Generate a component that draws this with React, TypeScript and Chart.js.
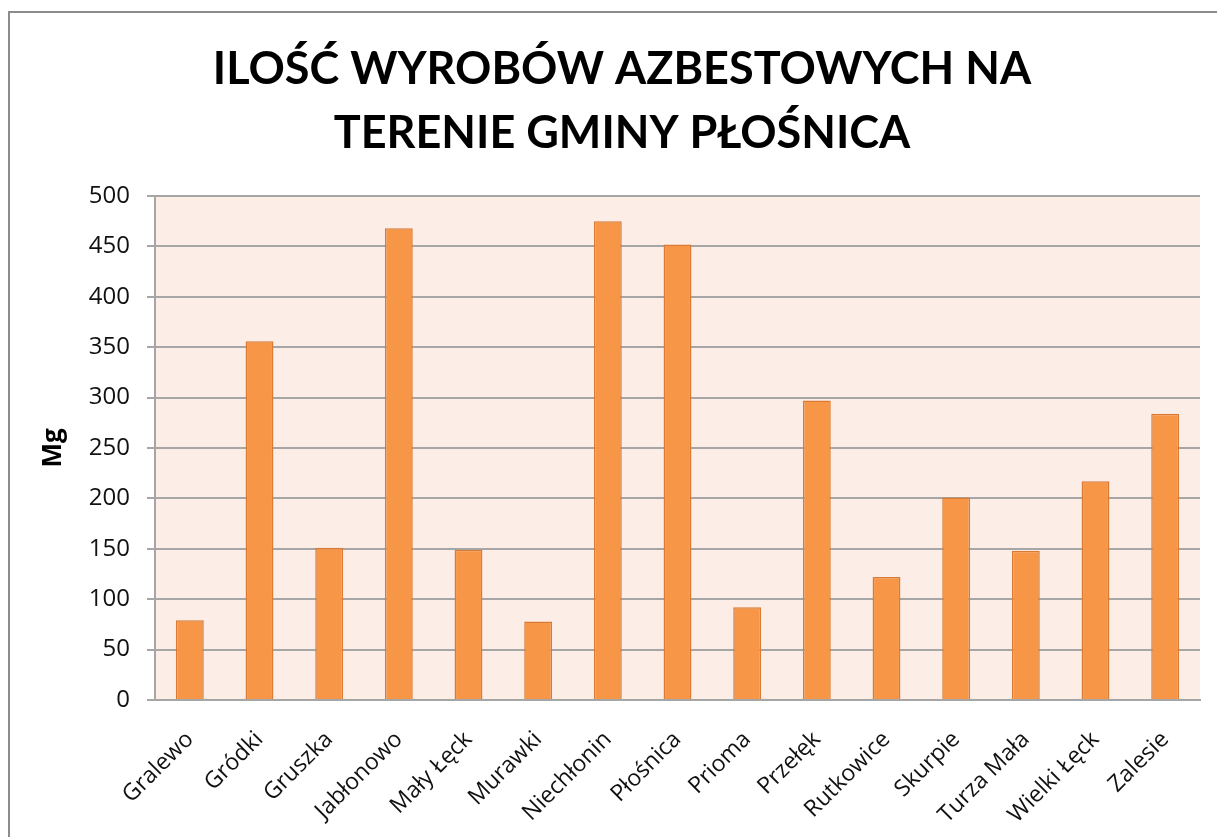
import React, { useEffect, useRef } from "react";
import { Chart, registerables } from "chart.js";

Chart.register(...registerables);

const categories = [
  "Gralewo", "Gródki", "Gruszka", "Jabłonowo", "Mały Łęck", "Murawki", "Niechłonin",
  "Płośnica", "Prioma", "Przełęk", "Rutkowice", "Skurpie", "Turza Mała", "Wielki Łęck", "Zalesie",
];
const values = [79, 356, 151, 468, 149, 78, 475, 452, 92, 297, 122, 201, 148, 217, 284];
const titleLines = ["ILOŚĆ WYROBÓW AZBESTOWYCH NA", "TERENIE GMINY PŁOŚNICA"];
const yAxisTitle = "Mg";

const frameAndTitle = {
  id: "frameAndTitle",
  beforeDraw(chart: any) {
    const { ctx, chartArea } = chart;
    ctx.save();
    ctx.fillStyle = "#FCEDE7";
    ctx.fillRect(chartArea.left, chartArea.top, chartArea.right - chartArea.left, chartArea.bottom - chartArea.top);
    ctx.restore();
  },
  afterDraw(chart: any) {
    const { ctx } = chart;
    ctx.save();
    ctx.strokeStyle = "#8C8C8C";
    ctx.lineWidth = 2;
    ctx.beginPath();
    ctx.moveTo(9, 837);
    ctx.lineTo(9, 12);
    ctx.lineTo(1217, 12);
    ctx.stroke();
    ctx.fillStyle = "#000";
    ctx.textAlign = "center";
    ctx.textBaseline = "alphabetic";
    ctx.font = "bold 45px Lato";
    ctx.fillText(titleLines[0], 622, 84);
    ctx.fillText(titleLines[1], 622, 148);
    ctx.restore();
  },
};

export default function App() {
  const ref = useRef<HTMLCanvasElement>(null);
  useEffect(() => {
    const chart = new Chart(ref.current!, {
      type: "bar",
      data: {
        labels: categories,
        datasets: [
          {
            data: values,
            backgroundColor: "#F79646",
            borderColor: "#D97B35",
            borderWidth: 1.5,
            categoryPercentage: 0.8,
            barPercentage: 0.5,
          },
        ],
      },
      options: {
        animation: false,
        responsive: false,
        layout: { padding: { left: 30, top: 196, right: 17, bottom: 0 } },
        plugins: { legend: { display: false }, tooltip: { enabled: false }, title: { display: false } },
        scales: {
          x: {
            grid: { display: false },
            border: { display: true, color: "#A6A6A6", width: 2 },
            ticks: {
              color: "#111",
              font: { family: "'Open Sans'", size: 23 },
              maxRotation: 45,
              minRotation: 45,
              padding: 18,
            },
            afterFit(scale: any) {
              scale.height = 137;
            },
          },
          y: {
            min: 0,
            max: 500,
            grid: { color: "#A6A6A6", lineWidth: 2, tickLength: 8 },
            border: { display: true, color: "#A6A6A6", width: 2 },
            ticks: {
              stepSize: 50,
              color: "#111",
              font: { family: "'Open Sans'", size: 24 },
              padding: 17,
            },
            title: {
              display: true,
              text: yAxisTitle,
              color: "#000",
              font: { family: "'Open Sans'", size: 26, weight: "bold" },
              padding: { top: 8, bottom: 0 },
            },
            afterFit(scale: any) {
              scale.width = 125;
            },
          },
        },
      },
      plugins: [frameAndTitle],
    });
    return () => chart.destroy();
  }, []);
  return (
    <div style={{ position: "fixed", left: 0, top: 0, width: 1217, height: 837, background: "#fff" }}>
      <canvas ref={ref} width={1217} height={837} style={{ width: 1217, height: 837 }} />
    </div>
  );
}
